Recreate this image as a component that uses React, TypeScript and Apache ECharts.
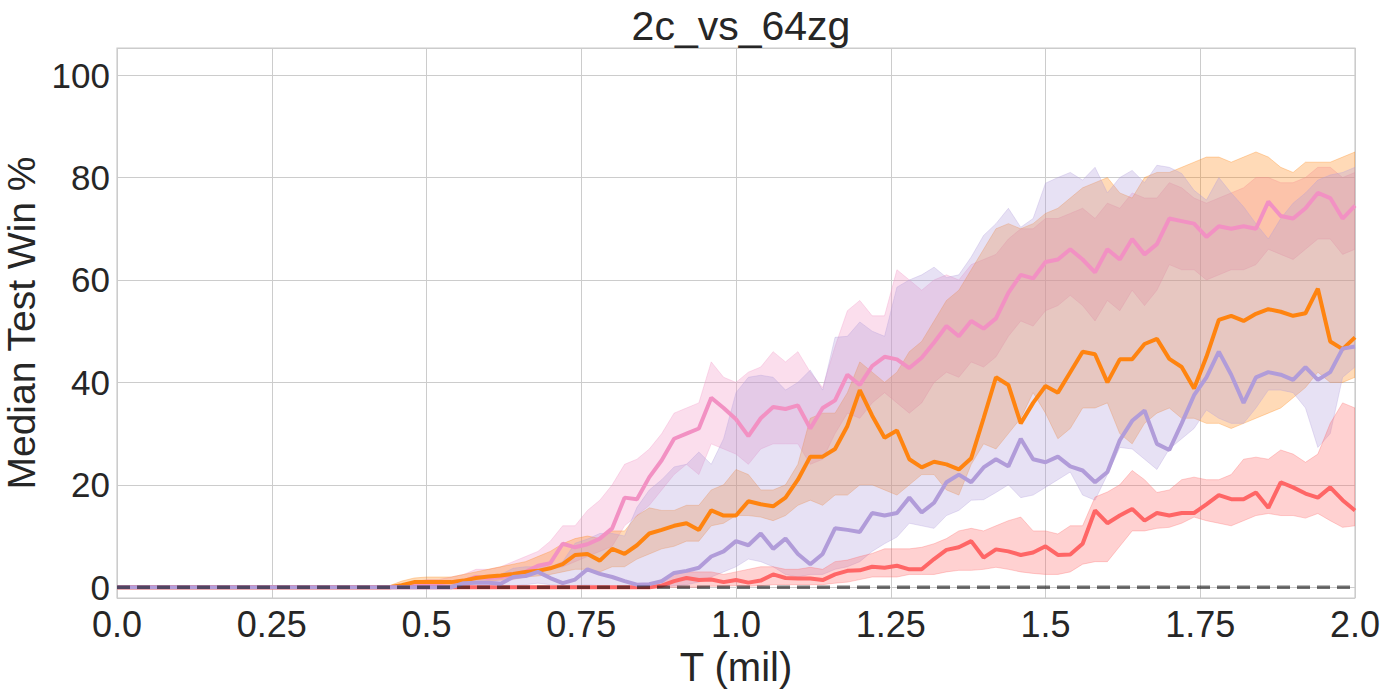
import React, { useEffect, useRef } from "react";
import * as echarts from "echarts";

// x positions (million steps)
const T = [
  0,
  0.4, 0.42, 0.44, 0.46, 0.48, 0.5, 0.52, 0.54, 0.56, 0.58,
  0.6, 0.62, 0.64, 0.66, 0.68, 0.7, 0.72, 0.74, 0.76, 0.78,
  0.8, 0.82, 0.84, 0.86, 0.88, 0.9, 0.92, 0.94, 0.96, 0.98,
  1.0, 1.02, 1.04, 1.06, 1.08, 1.1, 1.12, 1.14, 1.16, 1.18,
  1.2, 1.22, 1.24, 1.26, 1.28, 1.3, 1.32, 1.34, 1.36, 1.38,
  1.4, 1.42, 1.44, 1.46, 1.48, 1.5, 1.52, 1.54, 1.56, 1.58,
  1.6, 1.62, 1.64, 1.66, 1.68, 1.7, 1.72, 1.74, 1.76, 1.78,
  1.8, 1.82, 1.84, 1.86, 1.88, 1.9, 1.92, 1.94, 1.96, 1.98,
  2.0,
];

// pink
const PINK_MED = [
  0,
  0, 0, 0, 0.2, 0.5, 0.5, 0.8, 1.0, 1.2, 2.0,
  1.8, 2.0, 2.5, 3.0, 4.2, 4.7, 8.5, 7.8, 8.4, 9.5,
  11.5, 17.5, 17.2, 21.5, 24.8, 29, 30, 31, 37, 35,
  32.8, 29.5, 33, 35.2, 34.8, 35.5, 31, 35, 36.5, 41.5,
  39.5, 43.2, 45, 44.5, 42.8, 44.8, 47.8, 51, 49, 52,
  50.5, 52.5, 57.5, 61, 60.3, 63.5, 64, 66, 64, 61.5,
  66, 64, 68, 65, 67, 72, 71.5, 71, 68.4, 70.5,
  70, 70.5, 70, 75.3, 72.5, 72, 74, 77, 76, 72,
  74.5,
];
const PINK_LO = [
  0,
  0, 0, 0, 0, 0, 0, 0, 0.3, 0.5, 1,
  1, 1.2, 1.5, 2, 3, 3.5, 4, 5, 6, 7,
  8, 12, 14, 16, 19, 22, 24, 22, 28, 27,
  26, 24, 27, 28, 28, 28, 24, 25, 30, 34,
  33, 36, 38, 36, 34, 36, 40, 42, 41, 44,
  43, 45, 49, 52, 51, 54, 55, 57, 55, 52,
  56, 54, 58, 55, 58, 63, 62, 62, 60, 61,
  62, 62, 63, 66, 65, 64, 66, 68, 68, 65,
  66,
];
const PINK_HI = [
  0,
  0, 0, 0, 0.5, 1, 1.5, 1.5, 2, 2.5, 3.5,
  3.5, 4, 5, 6, 7, 9, 12, 12, 15, 17,
  20, 24, 25, 27, 30, 34, 35, 36, 44, 41,
  40, 42, 43, 46, 44, 46, 42, 39, 47, 54,
  56, 53, 53, 62, 60, 58, 60, 61, 60, 63,
  64, 65, 68, 70, 70, 72, 72, 73, 74, 72,
  75, 74, 77, 76, 76, 79, 78, 76, 75, 76,
  77, 78, 80, 80, 79, 79, 80, 82, 82, 80,
  81,
];

// orange
const ORANGE_MED = [
  0,
  0, 0, 0, 0.4, 1.0, 1.0, 1.0, 1.0, 1.3, 1.8,
  2.1, 2.3, 2.6, 3.0, 3.2, 3.7, 4.5, 6.3, 6.5, 5.2,
  7.5, 6.5, 8.2, 10.5, 11.2, 12, 12.5, 11.2, 15, 14,
  14, 16.8, 16.2, 15.8, 17.5, 21, 25.5, 25.5, 27, 31.5,
  38.5, 33.5, 29.2, 30.6, 25, 23.4, 24.5, 24, 23, 25.2,
  33, 41, 39.5, 32, 36, 39.3, 38, 42, 46, 45.5,
  40, 44.5, 44.5, 47.5, 48.5, 44.6, 43, 38.8, 45, 52.2,
  53, 52, 53.4, 54.3, 53.8, 53, 53.5, 58.3, 48, 46.5,
  48.8,
];
const ORANGE_LO = [
  0,
  0, 0, 0, 0, 0.3, 0.3, 0.4, 0.4, 0.6, 1,
  1.2, 1.4, 1.6, 2, 2.2, 2.5, 3, 3.5, 3.5, 3,
  4, 4, 5.5, 6.5, 7.5, 8, 9, 9, 12, 12.5,
  14, 14, 13.7, 13, 14, 16, 17, 16, 18, 18,
  20, 20, 19, 18, 20, 22, 22, 19, 18, 24,
  28, 27, 30, 33, 38, 34, 29, 31, 35, 35,
  36, 30, 28, 32, 34, 35, 33, 33, 32, 32,
  31, 32, 33, 34, 35, 37, 39, 42, 40, 40,
  41,
];
const ORANGE_HI = [
  0,
  0, 0, 0.3, 1.2, 1.8, 2, 2, 2, 2.5, 3,
  3.5, 4, 4.5, 5, 6, 7, 8.5, 9.5, 10, 9.5,
  11, 11, 14, 15.5, 15, 15, 16, 16, 19, 20,
  23, 22, 19, 19, 20, 24, 33, 34, 34, 38,
  44, 42, 40, 42, 46, 48, 52, 56, 58, 62,
  66, 70, 71, 70, 71, 73, 74, 76, 78, 79,
  80, 77, 76, 80, 81, 81, 82, 83, 84, 84,
  83, 84, 85, 84, 82, 81, 83, 83, 83, 84,
  85,
];

// purple
const PURPLE_MED = [
  0,
  0, 0, 0, 0, 0, 0, 0, 0, 0.8, 0.9,
  0.9, 0.7, 2.0, 2.2, 3.0, 1.8, 0.8, 1.5, 3.5, 2.6,
  2.0, 1.2, 0.5, 0.6, 1.2, 2.8, 3.2, 3.8, 6.0, 7.0,
  9.0, 8.2, 10.5, 7.5, 9.5, 6.5, 4.5, 6.5, 11.5, 11.2,
  10.8, 14.5, 14, 14.5, 17.5, 14.6, 16.5, 20.5, 22, 20.5,
  23.4, 25, 23.6, 29, 25, 24.4, 25.5, 23.6, 22.8, 20.5,
  22.5, 28.7, 32.5, 34.5, 28, 26.8, 32, 37.5, 41, 46,
  41.5, 36, 41, 42, 41.5, 40.5, 43, 40.5, 42, 46.6,
  47,
];
const PURPLE_LO = [
  0,
  0, 0, 0, 0, 0, 0, 0, 0, 0, 0,
  0, 0, 0.3, 0.5, 0.8, 0.5, 0.3, 0.3, 0.5, 0.3,
  0.2, 0, 0, 0, 0, 0.3, 0.5, 1, 2, 3,
  4, 5.5, 5, 4, 2.5, 2, 2.5, 2.5, 3.5, 4,
  5, 7, 8.5, 9.8, 12.5, 12, 11.5, 14, 15, 17,
  17.1, 18.5, 20, 17.5, 18, 19.5, 21, 22.5, 18, 17,
  22, 27.3, 27, 25, 23, 27, 29, 31, 34.6, 33,
  32, 32, 35, 38.5, 38.5, 38, 35, 27.3, 30, 41,
  43,
];
const PURPLE_HI = [
  0,
  0, 0, 0, 0, 0, 0, 0, 0.5, 1.5, 2,
  2, 2.5, 3.7, 4, 4, 4, 5, 8.6, 9.4, 10.5,
  10.5, 10, 15.6, 19, 21, 23.5, 24, 26.4, 24, 29,
  38, 41, 41.4, 41, 38.5, 40, 42.4, 38.5, 48.8, 49,
  51.8, 50, 49, 58.6, 60, 61, 62.5, 60.5, 61, 64.5,
  68.7, 71, 74, 70.3, 72, 78.9, 80, 81, 79.5, 82,
  77, 80, 81.4, 79, 82.4, 82, 80.8, 77.5, 75.6, 80,
  77, 74.3, 71, 68, 72, 75, 77, 79.5, 80.5, 81,
  82,
];

// red
const RED_MED = [
  0,
  0, 0, 0, 0, 0, 0, 0, 0, 0, 0,
  0, 0, 0, 0, 0, 0, 0, 0, 0, 0,
  0, 0, 0, 0, 0.3, 1.2, 1.8, 1.4, 1.5, 1.0,
  1.4, 0.9, 1.3, 2.5, 1.8, 1.7, 1.7, 1.4, 2.5, 3.2,
  3.3, 4.0, 3.8, 4.2, 3.5, 3.5, 5.5, 7.3, 7.8, 9.0,
  5.8, 7.4, 7.0, 6.3, 6.8, 8.0, 6.3, 6.4, 8.5, 15,
  12.5, 14, 15.3, 13, 14.5, 14, 14.5, 14.5, 16.2, 18,
  17.2, 17.2, 18.5, 15.5, 20.5, 19.5, 18.3, 17.5, 19.5, 17,
  15,
];
const RED_LO = [
  0,
  0, 0, 0, 0, 0, 0, 0, 0, 0, 0,
  0, 0, 0, 0, 0, 0, 0, 0, 0, 0,
  0, 0, 0, 0, 0, 0, 0, 0, 0.2, 0.2,
  0.3, 0.2, 0.3, 0.5, 0.5, 0.5, 0.5, 0.5, 0.8, 1,
  1.5, 2, 2, 2, 2.5, 2.5, 2.5, 3, 3.3, 3.3,
  3.5, 3.9, 3.5, 3, 2.7, 2.5, 2.5, 3, 4.5, 5,
  5, 8, 11, 11, 11.5, 11.7, 12.5, 13.7, 13, 12.5,
  12, 13, 14, 14.4, 14, 14, 13.5, 14.4, 13, 11.7,
  12,
];
const RED_HI = [
  0,
  0, 0, 0, 0, 0, 0, 0, 0, 0, 0,
  0, 0, 0, 0, 0, 0, 0, 0, 0, 0,
  0, 0, 0, 0.5, 1.5, 2.5, 3, 3, 3, 2.5,
  3, 3.5, 4, 4, 3.5, 3.5, 3.9, 3.5, 5, 5.3,
  6, 6.6, 7.5, 7.5, 7.5, 7.8, 8.5, 9.5, 11, 11.5,
  11, 12, 13, 13.7, 11, 11, 10.4, 12, 12, 17.6,
  18.6, 20, 22.8, 21, 18.5, 19, 21, 21.5, 21, 21,
  22, 25, 25.4, 25, 26.8, 26, 24.4, 26, 32, 36,
  35,
];

const Y_TICKS = [0, 20, 40, 60, 80, 100];
const X_TICK_LABELS = ["0.0", "0.25", "0.5", "0.75", "1.0", "1.25", "1.5", "1.75", "2.0"];

const PINK = "#f291c3";
const ORANGE = "#ff8410";
const PURPLE = "#b19cd9";
const RED = "#ff6666";
const FONT = "'Liberation Sans', Arial, sans-serif";
const TXT = "#262626";

function pairs(ys: number[]) {
  return T.map((t, i) => [t, ys[i]]);
}

function band(key: string, lo: number[], hi: number[], color: string) {
  const data = T.map((t, i) => [t, lo[i], hi[i]]);
  return {
    type: "custom",
    name: key,
    data,
    encode: { x: 0, y: [1, 2] },
    clip: true,
    silent: true,
    z: 1,
    renderItem: (params: any, api: any) => {
      if (params.dataIndex !== 0) return null;
      const upper: number[][] = [];
      const lower: number[][] = [];
      for (let i = 0; i < data.length; i++) {
        upper.push(api.coord([data[i][0], data[i][2]]));
        lower.push(api.coord([data[i][0], data[i][1]]));
      }
      const pts = upper.concat(lower.reverse());
      return {
        type: "polygon",
        shape: { points: pts },
        style: {
          fill: color,
          opacity: 0.3,
          stroke: color,
          lineWidth: 1,
        },
      };
    },
  };
}

function med(key: string, ys: number[], color: string, z: number) {
  return {
    type: "line",
    name: key,
    data: pairs(ys),
    symbol: "none",
    lineStyle: { color, width: 4 },
    z,
    silent: true,
  };
}

export default function App() {
  const ref = useRef<HTMLDivElement>(null);
  useEffect(() => {
    if (!ref.current) return;
    const chart = echarts.init(ref.current, undefined, { renderer: "svg" });
    const option = {
      animation: false,
      backgroundColor: "#ffffff",
      textStyle: { fontFamily: FONT },
      title: {
        text: "2c_vs_64zg",
        left: 736,
        top: 0,
        textAlign: "center",
        textStyle: { fontFamily: FONT, fontSize: 41, fontWeight: "normal", color: TXT },
      },
      grid: {
        left: 117,
        right: 34,
        top: 48,
        bottom: 91,
        containLabel: false,
        outerBoundsMode: "none",
        show: true,
        borderColor: "#cccccc",
        borderWidth: 1.2,
        backgroundColor: "transparent",
      },
      xAxis: {
        type: "value",
        min: 0,
        max: 2,
        interval: 0.25,
        name: "T (mil)",
        nameLocation: "middle",
        nameGap: 31,
        nameTextStyle: { fontFamily: FONT, fontSize: 40, color: TXT },
        axisLine: { show: false },
        axisTick: { show: false },
        splitLine: { show: true, lineStyle: { color: "#cccccc", width: 1 } },
        axisLabel: {
          fontFamily: FONT,
          fontSize: 36,
          color: TXT,
          margin: 8,
          formatter: (v: number) => X_TICK_LABELS[Math.round(v / 0.25)] ?? String(v),
        },
      },
      yAxis: {
        type: "value",
        min: -2.1,
        max: 105.3,
        minInterval: 20,
        maxInterval: 20,
        name: "Median Test Win %",
        nameLocation: "middle",
        nameGap: 75,
        nameTextStyle: { fontFamily: FONT, fontSize: 39, color: TXT },
        axisLine: { show: false },
        axisTick: { show: false },
        splitLine: { show: true, lineStyle: { color: "#cccccc", width: 1 } },
        axisLabel: {
          fontFamily: FONT,
          fontSize: 35,
          color: TXT,
          margin: 7,
          showMinLabel: false,
          showMaxLabel: false,
          formatter: (v: number) =>
            Y_TICKS.includes(Math.round(v)) && Math.abs(v - Math.round(v)) < 1e-6 ? String(Math.round(v)) : "",
        },
      },
      series: [
        band("pinkBand", PINK_LO, PINK_HI, PINK),
        band("orangeBand", ORANGE_LO, ORANGE_HI, ORANGE),
        band("purpleBand", PURPLE_LO, PURPLE_HI, PURPLE),
        band("redBand", RED_LO, RED_HI, RED),
        med("pink", PINK_MED, PINK, 3),
        med("orange", ORANGE_MED, ORANGE, 4),
        med("red", RED_MED, RED, 5),
        med("purple", PURPLE_MED, PURPLE, 6),
        {
          type: "line",
          name: "baseline",
          data: [
            [0, 0],
            [2, 0],
          ],
          symbol: "none",
          lineStyle: { color: "rgba(0,0,0,0.55)", width: 3.5, type: [13, 7] },
          z: 7,
          silent: true,
        },
      ],
    };
    chart.setOption(option as any);
    return () => chart.dispose();
  }, []);
  return (
    <div
      ref={ref}
      style={{ position: "fixed", left: 0, top: 0, width: 1389, height: 689, background: "#fff" }}
    />
  );
}
